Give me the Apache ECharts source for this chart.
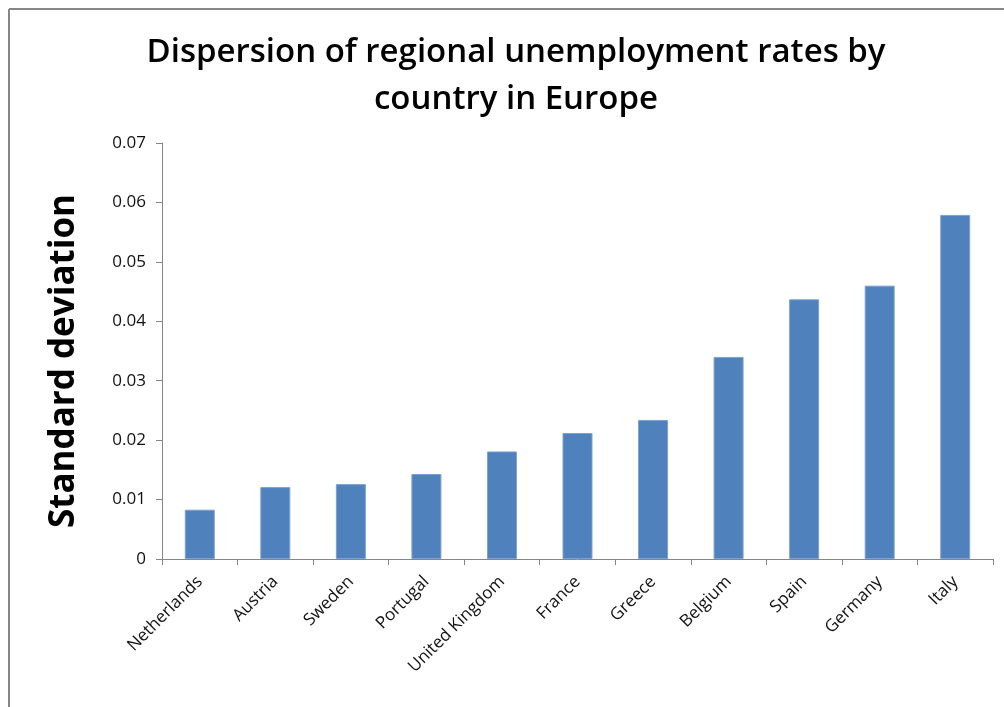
<!DOCTYPE html>
<html>
<head>
<meta charset="utf-8">
<script src="https://cdn.jsdelivr.net/npm/echarts@6/dist/echarts.min.js"></script>
<style>
  html, body { margin: 0; padding: 0; background: #fff; }
  #chart { width: 1004px; height: 707px; }
</style>
</head>
<body>
<div id="chart"></div>
<script>
// Countries, ordered by dispersion
const countries = ['Netherlands', 'Austria', 'Sweden', 'Portugal', 'United Kingdom',
  'France', 'Greece', 'Belgium', 'Spain', 'Germany', 'Italy'];
// Standard deviation of regional unemployment rates
const stdDev = [0.0083, 0.0121, 0.0126, 0.0143, 0.0181, 0.0212, 0.0234, 0.0340, 0.0437, 0.0460, 0.0579];

const titleText = 'Dispersion of regional unemployment rates by\ncountry in Europe';
const yAxisTitle = 'Standard deviation';

const FONT = "'Open Sans', 'Liberation Sans', sans-serif";

const chart = echarts.init(document.getElementById('chart'), null, { renderer: 'canvas' });
chart.setOption({
  backgroundColor: '#ffffff',
  animation: false,
  title: {
    text: titleText,
    left: 511,
    textAlign: 'center',
    top: 24,
    textStyle: {
      fontFamily: FONT,
      fontSize: 33,
      fontWeight: 600,
      color: '#000',
      lineHeight: 47
    }
  },
  // chart frame: top and left edges
  graphic: [
    { type: 'line', shape: { x1: 9, y1: 9, x2: 1004, y2: 9 }, style: { stroke: '#878787', lineWidth: 2 } },
    { type: 'line', shape: { x1: 9, y1: 9, x2: 9, y2: 707 }, style: { stroke: '#878787', lineWidth: 2 } }
  ],
  grid: { left: 162, right: 11, top: 143, bottom: 148, containLabel: false },
  xAxis: {
    type: 'category',
    data: countries,
    axisLine: { lineStyle: { color: '#868686', width: 1 } },
    axisTick: { show: true, alignWithLabel: false, length: 6, lineStyle: { color: '#868686' } },
    axisLabel: {
      interval: 0,
      rotate: 45,
      margin: 20,
      fontFamily: FONT,
      fontSize: 17,
      color: '#111'
    }
  },
  yAxis: {
    type: 'value',
    min: 0,
    max: 0.07,
    interval: 0.01,
    name: yAxisTitle,
    nameLocation: 'middle',
    nameGap: 80,
    nameTextStyle: {
      fontFamily: FONT,
      fontSize: 35,
      fontWeight: 'bold',
      color: '#000',
      padding: [0, 20, 0, 0]
    },
    axisLine: { show: true, lineStyle: { color: '#868686', width: 1 } },
    axisTick: { show: true, length: 6, lineStyle: { color: '#868686' } },
    splitLine: { show: false },
    axisLabel: {
      margin: 16,
      fontFamily: FONT,
      fontSize: 17,
      color: '#111',
      formatter: v => (v === 0 ? '0' : v.toFixed(2))
    }
  },
  series: [{
    type: 'bar',
    data: stdDev,
    barWidth: 30,
    itemStyle: { color: '#4F81BD', borderColor: '#7da2d0', borderWidth: 1 }
  }]
});
</script>
</body>
</html>
